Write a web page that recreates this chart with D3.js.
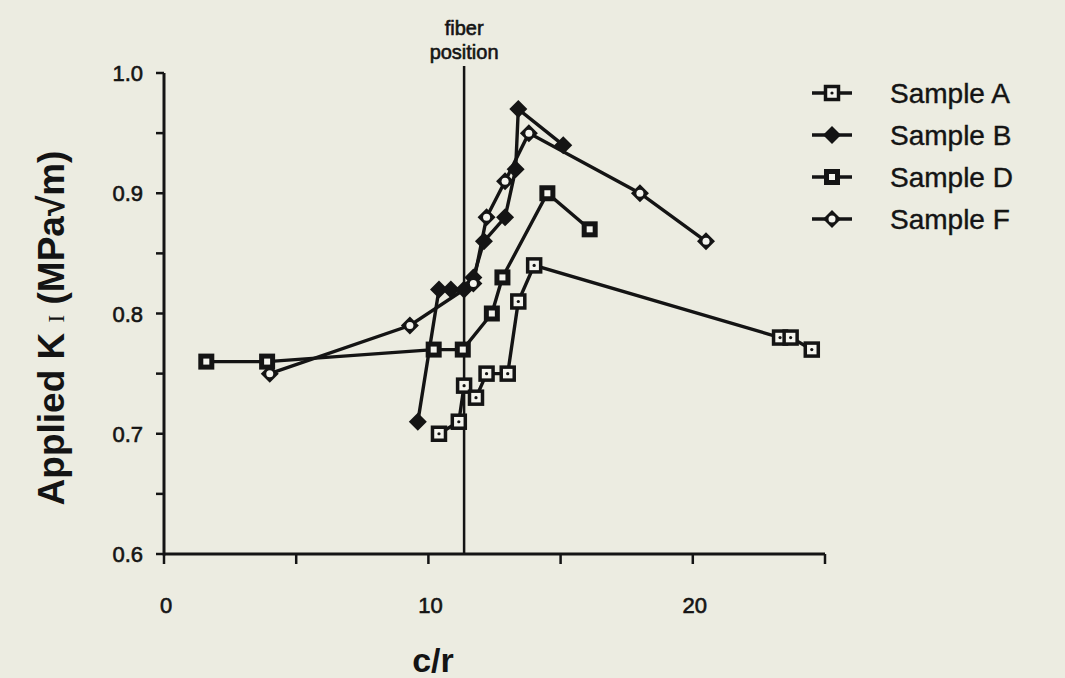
<!DOCTYPE html>
<html>
<head>
<meta charset="utf-8">
<script src="https://cdn.jsdelivr.net/npm/d3@7"></script>
<style>
  body { margin: 0; background: #ecece1; }
  svg { display: block; }
</style>
</head>
<body>
<svg id="chart" width="1065" height="678"></svg>
<script>
// data: [c/r, K]
const sampleA = [[10.4,0.70],[11.15,0.71],[11.35,0.74],[11.8,0.73],[12.2,0.75],[13.0,0.75],[13.4,0.81],[14.0,0.84],[23.3,0.78],[23.7,0.78],[24.5,0.77]];
const sampleB = [[9.6,0.71],[10.4,0.82],[10.85,0.82],[11.35,0.82],[11.7,0.83],[12.1,0.86],[12.9,0.88],[13.3,0.92],[13.4,0.97],[15.1,0.94]];
const sampleD = [[1.6,0.76],[3.9,0.76],[10.2,0.77],[11.3,0.77],[12.4,0.80],[12.8,0.83],[14.5,0.90],[16.1,0.87]];
const sampleF = [[4.0,0.75],[9.3,0.79],[11.7,0.825],[12.2,0.88],[12.9,0.91],[13.8,0.95],[18.0,0.90],[20.5,0.86]];
const seriesNames = ["Sample A", "Sample B", "Sample D", "Sample F"];
const fiberPos = 11.35;
const xTicks = [0, 10, 20];
const xMinor = [5, 15, 25];
const yTicks = [0.6, 0.7, 0.8, 0.9, 1.0];
const yMinor = [0.65, 0.75, 0.85, 0.95];

const svg = d3.select("#chart");
const font = "'Liberation Sans', Arial, sans-serif";

const x = d3.scaleLinear().domain([0, 25]).range([164, 825]);
const y = d3.scaleLinear().domain([0.6, 1.0]).range([554, 73]);

const ink = "#141414";
const paper = "#f4f4ee";

// thicken text a little, the source is a photocopy
function heavy(sel, w) {
  return sel.attr("stroke", ink).attr("stroke-width", w).attr("paint-order", "stroke");
}

// axes
const g = svg.append("g");
g.append("line").attr("x1", x(0)).attr("x2", x(25)).attr("y1", y(0.6)).attr("y2", y(0.6))
  .attr("stroke", ink).attr("stroke-width", 3);
g.append("line").attr("x1", x(0)).attr("x2", x(0)).attr("y1", y(0.6) + 1.5).attr("y2", y(1.0))
  .attr("stroke", ink).attr("stroke-width", 3);

g.selectAll(".xt").data(xTicks.concat(xMinor)).enter().append("line")
  .attr("x1", d => x(d)).attr("x2", d => x(d))
  .attr("y1", y(0.6)).attr("y2", y(0.6) + 10)
  .attr("stroke", ink).attr("stroke-width", 2.5);
g.selectAll(".yt").data(yTicks.concat(yMinor)).enter().append("line")
  .attr("x1", x(0) - 8).attr("x2", x(0))
  .attr("y1", d => y(d)).attr("y2", d => y(d))
  .attr("stroke", ink).attr("stroke-width", 2.5);

heavy(g.selectAll(".xl").data(xTicks).enter().append("text")
  .attr("x", d => x(d) + 2).attr("y", 613)
  .attr("text-anchor", "middle")
  .attr("font-family", font).attr("font-size", 22).attr("fill", ink)
  .text(d => d), 0.6);
heavy(g.selectAll(".yl").data(yTicks).enter().append("text")
  .attr("x", 143).attr("y", d => y(d) + 8)
  .attr("text-anchor", "end")
  .attr("font-family", font).attr("font-size", 22).attr("fill", ink)
  .text(d => d3.format(".1f")(d)), 0.6);

// axis titles
svg.append("text")
  .attr("x", 433).attr("y", 672)
  .attr("text-anchor", "middle")
  .attr("font-family", font).attr("font-size", 34).attr("font-weight", "bold").attr("fill", ink)
  .text("c/r");

const yt = svg.append("text")
  .attr("transform", "translate(64,328) rotate(-90)")
  .attr("text-anchor", "middle")
  .attr("font-family", font).attr("font-size", 37).attr("font-weight", "bold").attr("fill", ink);
yt.append("tspan").text("Applied K ");
yt.append("tspan").attr("font-family", "'Liberation Serif', serif").attr("font-weight", "normal")
  .attr("font-size", 23).text("I");
yt.append("tspan").text(" (MPa\u221Am)");

// fiber position
svg.append("line")
  .attr("x1", x(fiberPos)).attr("x2", x(fiberPos))
  .attr("y1", 66).attr("y2", y(0.6))
  .attr("stroke", ink).attr("stroke-width", 2.5);
heavy(svg.append("text").attr("x", x(fiberPos)).attr("y", 35)
  .attr("text-anchor", "middle").attr("font-family", font).attr("font-size", 20).attr("fill", ink)
  .text("fiber"), 0.6);
heavy(svg.append("text").attr("x", x(fiberPos)).attr("y", 59)
  .attr("text-anchor", "middle").attr("font-family", font).attr("font-size", 20).attr("fill", ink)
  .text("position"), 0.6);

// markers
function drawMarker(sel, type) {
  if (type === "A") {
    sel.append("rect").attr("x", -6.5).attr("y", -6.5).attr("width", 13).attr("height", 13)
      .attr("fill", paper).attr("stroke", ink).attr("stroke-width", 3.5);
    sel.append("circle").attr("r", 1.6).attr("fill", ink);
  } else if (type === "D") {
    sel.append("rect").attr("x", -8).attr("y", -8).attr("width", 16).attr("height", 16)
      .attr("fill", ink);
    sel.append("rect").attr("x", -3).attr("y", -3).attr("width", 6).attr("height", 6)
      .attr("fill", paper);
  } else if (type === "B") {
    sel.append("path").attr("d", "M0,-9L9,0L0,9L-9,0Z").attr("fill", ink);
  } else {
    sel.append("path").attr("d", "M0,-9L9,0L0,9L-9,0Z").attr("fill", ink);
    sel.append("circle").attr("r", 3.5).attr("fill", paper);
  }
}

const line = d3.line().x(d => x(d[0])).y(d => y(d[1]));
const allSeries = [
  { key: "A", data: sampleA },
  { key: "B", data: sampleB },
  { key: "D", data: sampleD },
  { key: "F", data: sampleF }
];

allSeries.forEach(s => {
  svg.append("path").datum(s.data).attr("d", line)
    .attr("fill", "none").attr("stroke", ink).attr("stroke-width", 3.4);
});
allSeries.forEach(s => {
  svg.selectAll(null).data(s.data).enter().append("g")
    .attr("transform", d => `translate(${x(d[0])},${y(d[1])})`)
    .each(function() { drawMarker(d3.select(this), s.key); });
});

// legend
const legY = [93, 135, 177, 219];
allSeries.forEach((s, i) => {
  const lg = svg.append("g").attr("transform", `translate(832,${legY[i]})`);
  lg.append("line").attr("x1", -20).attr("x2", 20).attr("stroke", ink).attr("stroke-width", 3.4);
  drawMarker(lg, s.key);
  heavy(svg.append("text").attr("x", 890).attr("y", legY[i] + 10)
    .attr("font-family", font).attr("font-size", 28).attr("fill", ink)
    .text(seriesNames[i]), 0.4);
});
</script>
</body>
</html>
